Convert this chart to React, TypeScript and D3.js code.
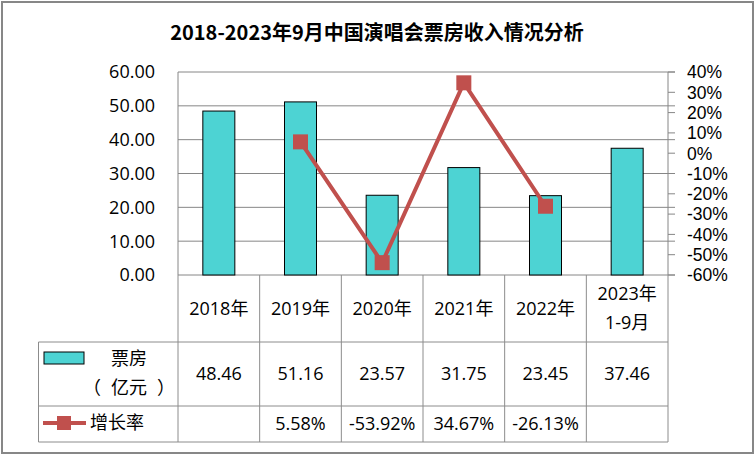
import React, { useEffect } from 'react';
import * as d3 from 'd3';

// chart data
const categories: string[][] = [['2018年'], ['2019年'], ['2020年'], ['2021年'], ['2022年'], ['2023年', '1-9月']];
const boxOffice = [48.46, 51.16, 23.57, 31.75, 23.45, 37.46];
const growth: (number | null)[] = [null, 5.58, -53.92, 34.67, -26.13, null];
const leftTicks = [0, 10, 20, 30, 40, 50, 60];
const rightTicks = [-60, -50, -40, -30, -20, -10, 0, 10, 20, 30, 40];

const W = 756;
const H = 456;
const plot = { left: 178, right: 668, top: 72, bottom: 275 };
const headerBottom = 342;
const row1Bottom = 406;
const row2Bottom = 442;
const tableLeft = 38.5;

const barColor = '#4dd3d3';
const lineColor = '#c0504d';
const gridColor = '#868686';
const tableColor = '#8c8c8c';
const numFont = '"Open Sans", "Noto Sans CJK SC", sans-serif';
const tickFont = '"Liberation Sans", Arial, sans-serif';
const cjkFont = '"Noto Sans CJK SC", "Open Sans", sans-serif';

export default function App() {
    useEffect(() => {
        document.body.style.margin = '0';
    }, []);

    const x = d3.scaleBand<number>()
        .domain(d3.range(categories.length))
        .range([plot.left, plot.right])
        .paddingInner(0)
        .paddingOuter(0);
    const y = d3.scaleLinear().domain([0, 60]).range([plot.bottom, plot.top]);
    const y2 = d3.scaleLinear().domain([-60, 40]).range([plot.bottom, plot.top]);

    const bw = x.bandwidth();
    const barW = 32;
    const cx = (i: number) => x(i)! + bw / 2;

    const line = d3.line<[number, number]>()
        .x(d => cx(d[0]))
        .y(d => y2(d[1]));
    const pts = growth
        .map((g, i) => [i, g] as [number, number | null])
        .filter(d => d[1] !== null) as [number, number][];

    const fmtPct = (v: number | null) => (v === null ? '' : v.toFixed(2) + '%');
    const colEdges = d3.range(categories.length + 1).map(i => (i < categories.length ? x(i)! : plot.right));

    return (
        <svg width={W} height={H} style={{ display: 'block', background: '#fff' }}>
            <rect x={2} y={2} width={W - 5} height={H - 5} fill="#fff" stroke="#878787" strokeWidth={2} />

            <text x={377} y={40} textAnchor="middle" fontFamily={cjkFont} fontWeight="bold" fontSize={20} fill="#000">
                2018-2023年9月中国演唱会票房收入情况分析
            </text>

            {/* gridlines */}
            {leftTicks.map(t => (
                <line key={'g' + t} x1={plot.left} x2={plot.right + 7} y1={y(t)} y2={y(t)} stroke={gridColor} strokeWidth={1} />
            ))}
            <line x1={plot.left} x2={plot.left} y1={plot.top} y2={plot.bottom} stroke={gridColor} />
            <line x1={plot.right} x2={plot.right} y1={plot.top} y2={plot.bottom} stroke={gridColor} />
            {rightTicks.map(t => (
                <line key={'rt' + t} x1={plot.right} x2={plot.right + 7} y1={y2(t)} y2={y2(t)} stroke={gridColor} />
            ))}

            {/* left axis labels */}
            {leftTicks.map(t => (
                <text key={'l' + t} x={155} y={y(t)} dy="0.36em" textAnchor="end" fontFamily={numFont} fontSize={18} fill="#000">
                    {t.toFixed(2)}
                </text>
            ))}
            {/* right axis labels */}
            {rightTicks.map(t => (
                <text key={'r' + t} x={687} y={y2(t)} dy="0.36em" textAnchor="start" fontFamily={tickFont} fontSize={17.5} fill="#000">
                    {t + '%'}
                </text>
            ))}

            {/* bars */}
            {boxOffice.map((v, i) => (
                <rect key={'b' + i} x={cx(i) - barW / 2} y={y(v)} width={barW} height={y(0) - y(v)}
                    fill={barColor} stroke="#000" strokeWidth={1} />
            ))}

            {/* growth line */}
            <path d={line(pts) ?? ''} fill="none" stroke={lineColor} strokeWidth={4} />
            {pts.map(d => (
                <rect key={'m' + d[0]} x={cx(d[0]) - 7.5} y={y2(d[1]) - 7.5} width={15} height={15} fill={lineColor} />
            ))}

            {/* data table */}
            <g stroke={tableColor} strokeWidth={1} fill="none">
                <line x1={tableLeft} x2={plot.right} y1={headerBottom} y2={headerBottom} />
                <line x1={tableLeft} x2={plot.right} y1={row1Bottom} y2={row1Bottom} />
                <line x1={tableLeft} x2={plot.right} y1={row2Bottom} y2={row2Bottom} />
                <line x1={tableLeft} x2={tableLeft} y1={headerBottom} y2={row2Bottom} />
                {colEdges.map((e, i) => (
                    <line key={'c' + i} x1={e} x2={e} y1={plot.bottom} y2={row2Bottom} />
                ))}
            </g>
            {categories.map((c, i) => (
                <text key={'h' + i} x={cx(i)} y={c.length > 1 ? 294 : 309} dy="0.36em" textAnchor="middle"
                    fontFamily={numFont} fontSize={18} fill="#000">
                    {c.map((s, j) => (
                        <tspan key={j} x={cx(i)} dy={j === 0 ? '0.36em' : 29}>{s}</tspan>
                    ))}
                </text>
            ))}
            {boxOffice.map((v, i) => (
                <text key={'v' + i} x={cx(i)} y={374} dy="0.36em" textAnchor="middle" fontFamily={numFont} fontSize={18} fill="#000">
                    {v.toFixed(2)}
                </text>
            ))}
            {growth.map((g, i) => (
                <text key={'p' + i} x={cx(i)} y={424} dy="0.36em" textAnchor="middle" fontFamily={numFont} fontSize={18} fill="#000">
                    {fmtPct(g)}
                </text>
            ))}

            {/* legend keys */}
            <rect x={44} y={352} width={40} height={12} fill={barColor} stroke="#000" strokeWidth={1} />
            <text x={129} y={359} dy="0.36em" textAnchor="middle" fontFamily={cjkFont} fontSize={18} fill="#000">票房</text>
            <g fontFamily={cjkFont} fontSize={18} fill="#000">
                <text x={101} y={388} dy="0.36em" textAnchor="end">（</text>
                <text x={129} y={388} dy="0.36em" textAnchor="middle">亿元</text>
                <text x={157} y={388} dy="0.36em" textAnchor="start">）</text>
            </g>
            <line x1={43} x2={86} y1={423} y2={423} stroke={lineColor} strokeWidth={4} />
            <rect x={57} y={416} width={14} height={14} fill={lineColor} />
            <text x={90} y={423} dy="0.36em" fontFamily={cjkFont} fontSize={18} fill="#000">增长率</text>
        </svg>
    );
}
